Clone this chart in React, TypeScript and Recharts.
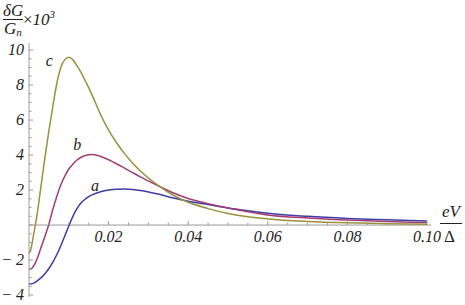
import { LineChart, Line, XAxis, YAxis, ReferenceLine, ReferenceDot } from 'recharts';

// eV/Δ sample points and δG/Gn ×10³ for the three curves
const xs = [0, 0.0005, 0.001, 0.0015, 0.002, 0.003, 0.004, 0.005, 0.006, 0.007, 0.008, 0.009, 0.010, 0.011, 0.012, 0.013, 0.014, 0.015, 0.016, 0.018, 0.020, 0.022, 0.024, 0.026, 0.028, 0.030, 0.033, 0.036, 0.040, 0.045, 0.050, 0.055, 0.060, 0.070, 0.080, 0.090, 0.100];
const curveA = [-3.37, -3.36, -3.33, -3.28, -3.2, -3.02, -2.78, -2.48, -2.12, -1.68, -1.18, -0.62, -0.05, 0.48, 0.92, 1.24, 1.46, 1.62, 1.74, 1.9, 2.0, 2.05, 2.06, 2.03, 1.97, 1.89, 1.74, 1.56, 1.36, 1.17, 0.98, 0.82, 0.68, 0.5, 0.38, 0.3, 0.23];
const curveB = [-2.53, -2.5, -2.4, -2.2, -1.95, -1.3, -0.65, 0.05, 0.9, 1.65, 2.3, 2.8, 3.2, 3.48, 3.7, 3.86, 3.96, 4.01, 4.03, 3.92, 3.73, 3.5, 3.25, 3.0, 2.75, 2.52, 2.18, 1.86, 1.52, 1.22, 0.97, 0.76, 0.58, 0.4, 0.29, 0.2, 0.14];
const curveC = [-1.62, -1.35, -0.75, -0.1, 0.55, 2.2, 3.85, 5.4, 6.8, 8.1, 9.0, 9.45, 9.58, 9.45, 9.12, 8.75, 8.3, 7.85, 7.35, 6.3, 5.42, 4.7, 4.08, 3.55, 3.09, 2.69, 2.18, 1.73, 1.3, 0.94, 0.66, 0.47, 0.35, 0.21, 0.13, 0.08, 0.05];

const xMajorTicks = [0.02, 0.04, 0.06, 0.08, 0.1];
const xTickLabels = ['0.02', '0.04', '0.06', '0.08', '0.10'];
const yMajorTicks = [-4, -2, 2, 4, 6, 8, 10];
const yTickLabels = ['\u2212 4', '\u2212 2', '2', '4', '6', '8', '10'];

const curveLabels = [
  { name: 'a', x: 0.0166, y: 2.25 },
  { name: 'b', x: 0.0121, y: 4.6 },
  { name: 'c', x: 0.0051, y: 9.35 },
];

const X_DOMAIN: [number, number] = [0, 0.101];
const Y_DOMAIN: [number, number] = [-4.11, 10.4];
const MARGIN = { top: 43, right: 34, bottom: 0, left: 0 };
const Y_AXIS_W = 29;
const X_AXIS_H = 8;
const W = 465;
const H = 305;
const PLOT_H = H - MARGIN.top - X_AXIS_H;
// distance from bottom of plot to the y = 0 line
const ZERO_OFFSET = ((0 - Y_DOMAIN[0]) / (Y_DOMAIN[1] - Y_DOMAIN[0])) * PLOT_H;

const AXIS = '#9a9a9a';
const FONT = "'Liberation Serif', 'Times New Roman', serif";
const COLORS = { a: '#3d3da3', b: '#a03d75', c: '#9c8f3d' };

const xMinor = Array.from({ length: 20 }, (_, i) => Math.round((i + 1) * 5) / 1000);
const yMinor = Array.from({ length: 29 }, (_, i) => -4 + i * 0.5);

const data = xs.map((x, i) => ({ x, a: curveA[i], b: curveB[i], c: curveC[i] }));

const XTick = (props: any) => {
  const { x, y, payload } = props;
  const y0 = y - ZERO_OFFSET;
  const idx = xMajorTicks.findIndex(t => Math.abs(t - payload.value) < 1e-9);
  const major = idx >= 0;
  return (
    <g>
      <line x1={x} x2={x} y1={y0} y2={y0 - (major ? 4 : 2.5)} stroke={AXIS} />
      {major && (
        <text x={x} y={y0 + 17} textAnchor="middle" fontFamily={FONT} fontStyle="italic" fontSize={16} fill="#222">
          {xTickLabels[idx]}
        </text>
      )}
    </g>
  );
};

const YTick = (props: any) => {
  const { x, y, payload } = props;
  const idx = yMajorTicks.findIndex(t => Math.abs(t - payload.value) < 1e-9);
  const major = idx >= 0 || payload.value === 0;
  return (
    <g>
      <line x1={x} x2={x + (major ? 4 : 2.5)} y1={y} y2={y} stroke={AXIS} />
      {idx >= 0 && (
        <text x={x - 5} y={y + 5} textAnchor="end" fontFamily={FONT} fontStyle="italic" fontSize={16} fill="#222">
          {yTickLabels[idx]}
        </text>
      )}
    </g>
  );
};

const CurveLabel = ({ viewBox, value }: any) => (
  <text x={viewBox.x} y={viewBox.y + 5} textAnchor="middle" fontFamily={FONT} fontStyle="italic" fontSize={16} fill="#222">
    {value}
  </text>
);

const italic = { fontFamily: FONT, fontStyle: 'italic' as const, color: '#222', position: 'absolute' as const, lineHeight: 1 };

export default function App() {
  return (
    <div style={{ position: 'absolute', left: 0, top: 0, width: W, height: H, background: '#fff' }}>
      <LineChart width={W} height={H} data={data} margin={MARGIN}>
        <XAxis
          dataKey="x"
          type="number"
          domain={X_DOMAIN}
          ticks={xMinor}
          interval={0}
          height={X_AXIS_H}
          axisLine={false}
          tickLine={false}
          tickSize={0}
          tickMargin={0}
          tick={<XTick />}
        />
        <YAxis
          type="number"
          domain={Y_DOMAIN}
          ticks={yMinor}
          interval={0}
          width={Y_AXIS_W}
          axisLine={{ stroke: AXIS }}
          tickLine={false}
          tickSize={0}
          tickMargin={0}
          tick={<YTick />}
        />
        <ReferenceLine y={0} stroke={AXIS} />
        <Line type="monotone" dataKey="a" stroke={COLORS.a} strokeWidth={1.5} dot={false} isAnimationActive={false} />
        <Line type="monotone" dataKey="b" stroke={COLORS.b} strokeWidth={1.5} dot={false} isAnimationActive={false} />
        <Line type="monotone" dataKey="c" stroke={COLORS.c} strokeWidth={1.5} dot={false} isAnimationActive={false} />
        {curveLabels.map(l => (
          <ReferenceDot key={l.name} x={l.x} y={l.y} r={0} fill="none" stroke="none" label={<CurveLabel value={l.name} />} />
        ))}
      </LineChart>

      {/* y label: δG / Gn × 10³ */}
      <div style={{ ...italic, left: 3, top: 2, fontSize: 17 }}>δG</div>
      <div style={{ position: 'absolute', left: 3, top: 19, width: 20, borderTop: '1px solid #222' }} />
      <div style={{ ...italic, left: 4, top: 20, fontSize: 17 }}>
        G<span style={{ fontSize: 11, position: 'relative', top: 2 }}>n</span>
      </div>
      <div style={{ ...italic, left: 23, top: 11, fontSize: 17 }}>
        <span style={{ fontStyle: 'normal' }}>×</span>10<span style={{ fontSize: 11, position: 'relative', top: -7 }}>3</span>
      </div>

      {/* x label: eV / Δ */}
      <div style={{ ...italic, left: 442, top: 203, fontSize: 17 }}>eV</div>
      <div style={{ position: 'absolute', left: 440, top: 223, width: 22, borderTop: '1px solid #222' }} />
      <div style={{ ...italic, fontStyle: 'normal', left: 444, top: 228, fontSize: 17 }}>Δ</div>
    </div>
  );
}
